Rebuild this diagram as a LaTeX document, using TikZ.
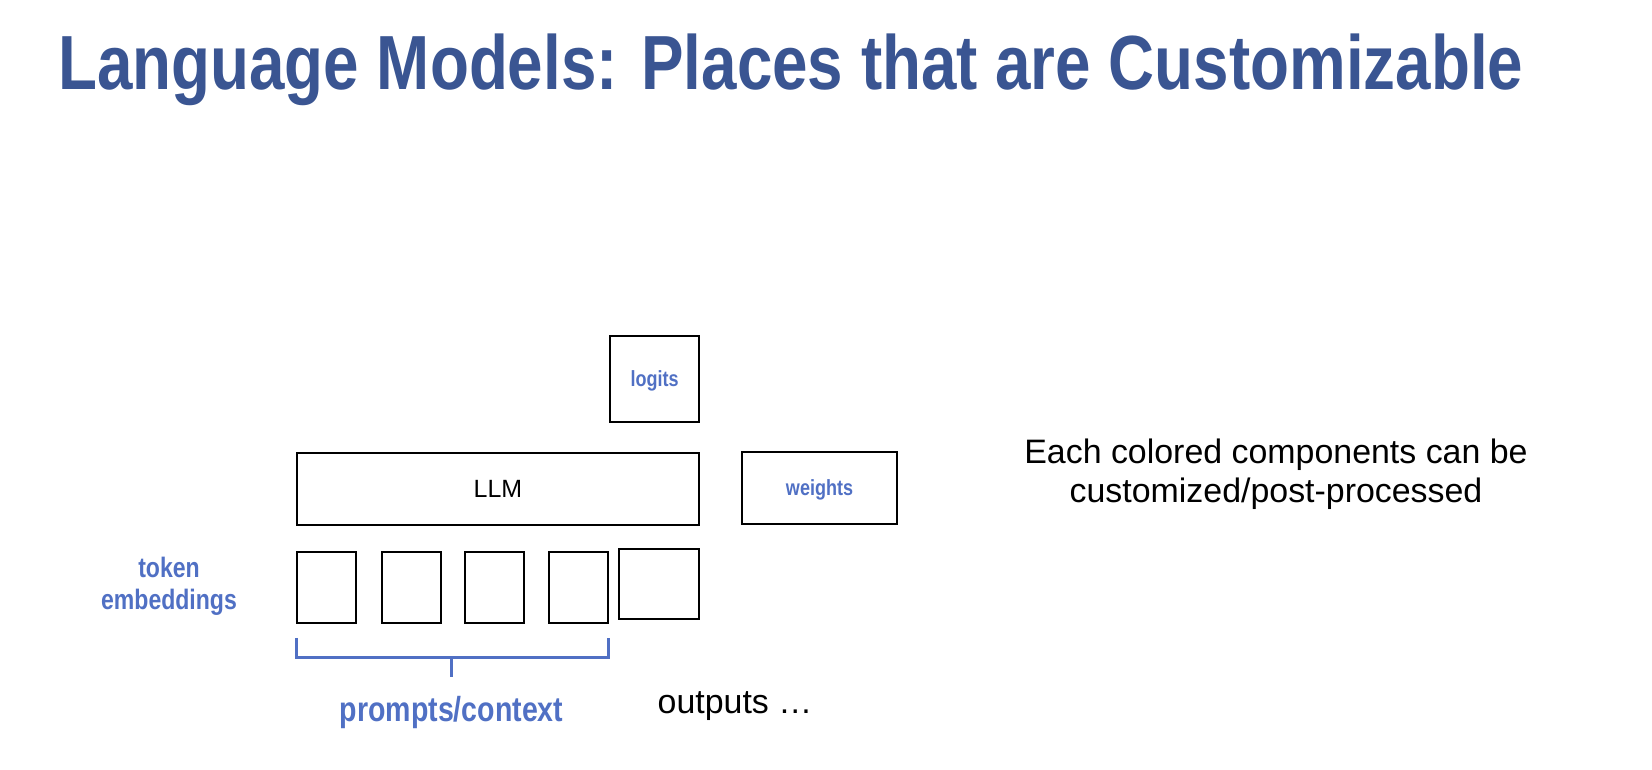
\documentclass[tikz,border=0pt]{standalone}
\usepackage{fontspec}
\setmainfont{Liberation Sans}
\usepackage{graphicx}
\usepackage{tikz}
\usetikzlibrary{positioning}
\definecolor{titleblue}{RGB}{58,85,146}
\definecolor{labblue}{RGB}{80,112,196}
\newcommand{\lab}[1]{\textcolor{labblue}{\bfseries\scalebox{0.82}[1]{#1}}}

\begin{document}
\begin{tikzpicture}[x=0.02cm,y=-0.02cm,
    box/.style={draw, line width=1.1pt, inner sep=0pt},
    brace/.style={labblue, line width=1.7pt},
    note/.style={font=\fontsize{19.3}{22.2}\selectfont}]
  \useasboundingbox (0,0) rectangle (1652,769);

  \node (title) [anchor=base west, inner sep=0pt, text=titleblue,
    font=\fontsize{43.7}{50}\selectfont\bfseries] at (58,89)
    {\scalebox{0.83}[1]{Language Models: Places that are Customizable}};

  \node (logits) [box, minimum width=1.78cm, minimum height=1.72cm, text depth=0pt] at (654.5,379)
    {\fontsize{12.5}{14}\selectfont\lab{logits}};
  \node (llm) [box, minimum width=8.04cm, minimum height=1.44cm] at (498,489)
    {\fontsize{14.2}{16}\selectfont LLM};
  \node (weights) [box, minimum width=3.1cm, minimum height=1.44cm, text depth=0pt] at (819.5,488)
    {\fontsize{12.5}{14}\selectfont\lab{weights}};

  \node (tok1) [box, minimum width=1.18cm, minimum height=1.42cm] at (326.5,587.5) {};
  \node (tok2) [box, minimum width=1.18cm, minimum height=1.42cm, right=0.48cm of tok1] {};
  \node (tok3) [box, minimum width=1.18cm, minimum height=1.42cm, right=0.44cm of tok2] {};
  \node (tok4) [box, minimum width=1.18cm, minimum height=1.42cm, right=0.46cm of tok3] {};
  \node (out1) [box, minimum width=1.6cm, minimum height=1.4cm] at (659,584) {};

  \node (tokemb) [align=center, font=\fontsize{16}{18.2}\selectfont] at (169,586)
    {\lab{token}\\\lab{embeddings}};

  % bracket under the prompt tokens
  \draw [brace] ([yshift=-0.28cm]tok1.south west) -- ++(0,20) -| ([yshift=-0.28cm]tok4.south east);
  \coordinate (mid) at (451,657);
  \draw [brace] (mid) -- ++(0,20);
  \node (ctx) [anchor=base, font=\fontsize{19.8}{22}\selectfont] at (451.5,721) {\lab{prompts/context}};

  \node (outs) [note, anchor=base] at (735,713) {outputs …};
  \node (remark) [note, align=center] at (1276,474)
    {Each colored components can be\\customized/post-processed};
\end{tikzpicture}
\end{document}
